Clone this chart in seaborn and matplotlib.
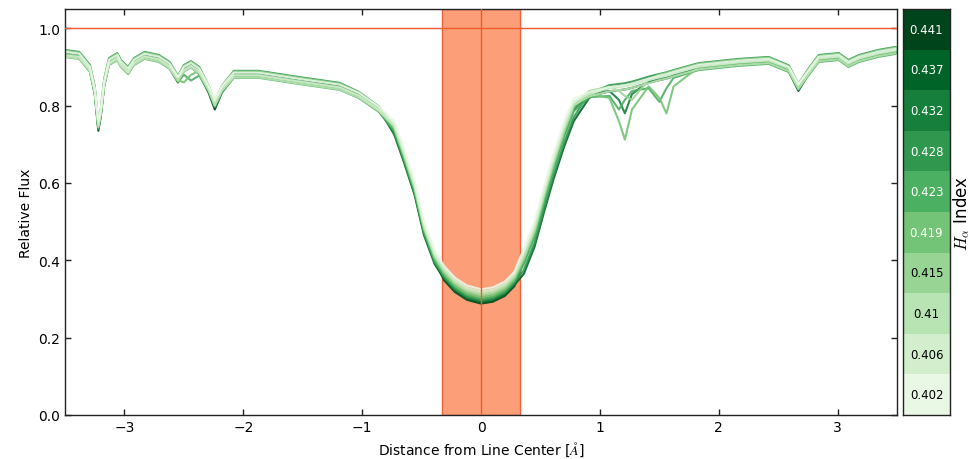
import numpy as np
import pandas as pd
import seaborn as sns
import matplotlib.pyplot as plt
from matplotlib.colors import ListedColormap

# ============================================================
# 1. DATA
# ============================================================

# wavelength offset from the H-alpha line centre [Angstrom]
wave = [-3.50, -3.38, -3.29, -3.25, -3.22, -3.20, -3.17, -3.13, -3.06, -3.03,
        -2.97, -2.92, -2.83, -2.71, -2.62, -2.55, -2.50, -2.44, -2.37, -2.29,
        -2.24, -2.18, -2.08, -1.87, -1.53, -1.19, -1.03, -0.86, -0.73, -0.65,
        -0.56, -0.48, -0.39, -0.31, -0.22, -0.12, 0.00, 0.10, 0.20, 0.28,
        0.36, 0.45, 0.53, 0.61, 0.70, 0.78, 0.91, 1.08, 1.16, 1.21,
        1.27, 1.41, 1.50, 1.56, 1.62, 1.83, 2.17, 2.42, 2.59, 2.67,
        2.74, 2.84, 3.01, 3.09, 3.18, 3.34, 3.49]

# H-alpha index of each spectrum (also the colourbar labels)
ha_index = [0.402, 0.406, 0.41, 0.415, 0.419, 0.423, 0.428, 0.432, 0.437, 0.441]

flux_402 = [0.939, 0.934, 0.900, 0.845, 0.760, 0.788, 0.865, 0.918, 0.931, 0.913,
            0.895, 0.918, 0.934, 0.926, 0.908, 0.874, 0.900, 0.910, 0.895, 0.850,
            0.815, 0.850, 0.885, 0.885, 0.869, 0.854, 0.833, 0.797, 0.760, 0.690,
            0.605, 0.500, 0.425, 0.385, 0.355, 0.335, 0.325, 0.330, 0.345, 0.370,
            0.430, 0.500, 0.590, 0.675, 0.760, 0.818, 0.835, 0.848, 0.851, 0.853,
            0.857, 0.870, 0.877, 0.881, 0.887, 0.905, 0.916, 0.921, 0.900, 0.856,
            0.885, 0.926, 0.931, 0.913, 0.926, 0.939, 0.947]
flux_406 = [0.930, 0.926, 0.893, 0.838, 0.752, 0.782, 0.858, 0.910, 0.924, 0.906,
            0.887, 0.911, 0.927, 0.919, 0.901, 0.872, 0.892, 0.903, 0.888, 0.845,
            0.810, 0.845, 0.878, 0.878, 0.862, 0.847, 0.826, 0.790, 0.752, 0.682,
            0.597, 0.492, 0.417, 0.379, 0.349, 0.329, 0.319, 0.324, 0.339, 0.364,
            0.420, 0.490, 0.580, 0.665, 0.750, 0.810, 0.830, 0.845, 0.848, 0.850,
            0.853, 0.866, 0.873, 0.877, 0.883, 0.901, 0.912, 0.917, 0.897, 0.853,
            0.882, 0.922, 0.927, 0.909, 0.922, 0.935, 0.943]
flux_410 = [0.926, 0.922, 0.888, 0.834, 0.745, 0.775, 0.854, 0.906, 0.919, 0.901,
            0.883, 0.906, 0.922, 0.914, 0.896, 0.864, 0.888, 0.898, 0.883, 0.838,
            0.800, 0.838, 0.873, 0.873, 0.857, 0.842, 0.821, 0.786, 0.746, 0.676,
            0.591, 0.486, 0.411, 0.374, 0.344, 0.324, 0.314, 0.319, 0.334, 0.359,
            0.410, 0.480, 0.570, 0.655, 0.740, 0.802, 0.824, 0.837, 0.840, 0.842,
            0.846, 0.858, 0.866, 0.870, 0.876, 0.894, 0.905, 0.910, 0.889, 0.844,
            0.874, 0.915, 0.920, 0.902, 0.915, 0.928, 0.936]
flux_415 = [0.942, 0.937, 0.902, 0.848, 0.755, 0.788, 0.868, 0.921, 0.934, 0.916,
            0.898, 0.921, 0.937, 0.929, 0.911, 0.876, 0.903, 0.913, 0.898, 0.850,
            0.812, 0.851, 0.888, 0.888, 0.872, 0.857, 0.835, 0.798, 0.744, 0.674,
            0.589, 0.484, 0.409, 0.370, 0.340, 0.320, 0.310, 0.315, 0.330, 0.355,
            0.405, 0.475, 0.565, 0.650, 0.735, 0.800, 0.838, 0.849, 0.838, 0.825,
            0.815, 0.868, 0.880, 0.884, 0.890, 0.908, 0.919, 0.924, 0.902, 0.855,
            0.888, 0.929, 0.934, 0.916, 0.929, 0.942, 0.950]
flux_419 = [0.933, 0.928, 0.894, 0.838, 0.745, 0.778, 0.859, 0.912, 0.925, 0.907,
            0.889, 0.912, 0.928, 0.920, 0.902, 0.866, 0.860, 0.880, 0.889, 0.842,
            0.803, 0.842, 0.879, 0.879, 0.863, 0.848, 0.827, 0.791, 0.740, 0.670,
            0.585, 0.480, 0.405, 0.365, 0.335, 0.315, 0.305, 0.310, 0.325, 0.350,
            0.400, 0.470, 0.560, 0.645, 0.730, 0.795, 0.830, 0.820, 0.760, 0.712,
            0.790, 0.850, 0.820, 0.780, 0.850, 0.899, 0.910, 0.915, 0.894, 0.848,
            0.879, 0.920, 0.925, 0.907, 0.920, 0.933, 0.941]
flux_423 = [0.926, 0.921, 0.887, 0.832, 0.740, 0.772, 0.852, 0.905, 0.918, 0.900,
            0.882, 0.905, 0.921, 0.913, 0.895, 0.861, 0.880, 0.865, 0.878, 0.835,
            0.797, 0.835, 0.872, 0.872, 0.856, 0.841, 0.820, 0.784, 0.735, 0.665,
            0.580, 0.475, 0.400, 0.361, 0.331, 0.311, 0.301, 0.306, 0.321, 0.346,
            0.390, 0.460, 0.550, 0.635, 0.720, 0.785, 0.822, 0.825, 0.790, 0.815,
            0.838, 0.845, 0.810, 0.845, 0.872, 0.892, 0.903, 0.908, 0.887, 0.841,
            0.872, 0.913, 0.918, 0.900, 0.913, 0.926, 0.934]
flux_428 = [0.944, 0.939, 0.905, 0.850, 0.752, 0.788, 0.870, 0.923, 0.936, 0.918,
            0.900, 0.923, 0.939, 0.931, 0.913, 0.877, 0.905, 0.915, 0.900, 0.850,
            0.808, 0.851, 0.890, 0.890, 0.874, 0.859, 0.836, 0.798, 0.730, 0.660,
            0.575, 0.470, 0.395, 0.357, 0.327, 0.307, 0.297, 0.302, 0.317, 0.342,
            0.375, 0.445, 0.535, 0.620, 0.705, 0.770, 0.832, 0.853, 0.856, 0.858,
            0.862, 0.875, 0.882, 0.886, 0.892, 0.910, 0.921, 0.926, 0.904, 0.856,
            0.889, 0.931, 0.936, 0.918, 0.931, 0.944, 0.952]
flux_432 = [0.931, 0.926, 0.891, 0.835, 0.742, 0.775, 0.856, 0.910, 0.923, 0.905,
            0.886, 0.910, 0.926, 0.918, 0.900, 0.864, 0.892, 0.902, 0.886, 0.838,
            0.798, 0.839, 0.877, 0.877, 0.861, 0.846, 0.824, 0.788, 0.732, 0.662,
            0.577, 0.472, 0.397, 0.354, 0.324, 0.304, 0.294, 0.299, 0.314, 0.339,
            0.395, 0.465, 0.555, 0.640, 0.725, 0.790, 0.826, 0.838, 0.815, 0.780,
            0.830, 0.862, 0.869, 0.873, 0.879, 0.897, 0.908, 0.913, 0.891, 0.843,
            0.876, 0.918, 0.922, 0.904, 0.917, 0.931, 0.939]
flux_437 = [0.938, 0.933, 0.898, 0.842, 0.742, 0.780, 0.862, 0.917, 0.930, 0.912,
            0.894, 0.917, 0.933, 0.925, 0.907, 0.870, 0.899, 0.909, 0.894, 0.844,
            0.795, 0.845, 0.884, 0.884, 0.868, 0.852, 0.830, 0.792, 0.725, 0.655,
            0.570, 0.465, 0.390, 0.351, 0.321, 0.301, 0.291, 0.296, 0.311, 0.336,
            0.365, 0.435, 0.525, 0.610, 0.695, 0.760, 0.820, 0.847, 0.850, 0.852,
            0.856, 0.869, 0.876, 0.880, 0.886, 0.904, 0.915, 0.920, 0.897, 0.846,
            0.882, 0.925, 0.930, 0.912, 0.925, 0.938, 0.946]
flux_441 = [0.928, 0.923, 0.888, 0.830, 0.735, 0.770, 0.852, 0.907, 0.920, 0.902,
            0.883, 0.907, 0.923, 0.915, 0.897, 0.860, 0.889, 0.899, 0.882, 0.832,
            0.790, 0.834, 0.874, 0.874, 0.858, 0.843, 0.822, 0.786, 0.735, 0.665,
            0.580, 0.475, 0.400, 0.348, 0.318, 0.298, 0.288, 0.293, 0.308, 0.333,
            0.400, 0.470, 0.560, 0.645, 0.730, 0.795, 0.824, 0.837, 0.840, 0.842,
            0.846, 0.859, 0.866, 0.870, 0.876, 0.894, 0.905, 0.910, 0.888, 0.838,
            0.874, 0.915, 0.920, 0.902, 0.915, 0.928, 0.936]

spectra = [flux_402, flux_406, flux_410, flux_415, flux_419,
           flux_423, flux_428, flux_432, flux_437, flux_441]

band_half_width = 0.33   # integration window around the line centre

# long-form table for seaborn
df = pd.concat(
    [pd.DataFrame({"wave": wave, "flux": f, "index": idx})
     for f, idx in zip(spectra, ha_index)],
    ignore_index=True,
)

# ============================================================
# 2. STYLE
# ============================================================

sns.set_theme(style="ticks")
plt.rcParams["font.family"] = ["DejaVu Sans"]
plt.rcParams["mathtext.fontset"] = "cm"
plt.rcParams["xtick.direction"] = "in"
plt.rcParams["ytick.direction"] = "in"
plt.rcParams["text.color"] = "black"
plt.rcParams["axes.labelcolor"] = "black"
plt.rcParams["xtick.labelcolor"] = "black"
plt.rcParams["ytick.labelcolor"] = "black"

greens = plt.get_cmap("Greens")(np.linspace(0.1, 1.0, len(ha_index)))
palette = {idx: greens[i] for i, idx in enumerate(ha_index)}
text_cols = ["black"] * 4 + ["white"] * 6

# ============================================================
# 3. FIGURE
# ============================================================

fig = plt.figure(figsize=(9.72, 4.6), dpi=100)
ax = fig.add_axes([0.0669, 0.0957, 0.856, 0.8826])
cax = fig.add_axes([0.929, 0.0957, 0.0484, 0.8826])

ax.axvspan(-band_half_width, band_half_width, facecolor="#fc9f79",
           edgecolor="#f0603a", lw=1.0, zorder=1)

sns.lineplot(data=df, x="wave", y="flux", hue="index",
             hue_order=ha_index[::-1], palette=palette,
             estimator=None, sort=False, lw=1.5, alpha=0.9,
             legend=False, ax=ax, zorder=2)

ax.axhline(1.0, color="#f05a2b", lw=1.0, zorder=3)
ax.axvline(0.0, color="#f05a2b", lw=1.0, zorder=3)

ax.set_xlim(-3.5, 3.5)
ax.set_ylim(0, 1.05)
ax.set_yticks([0.0, 0.2, 0.4, 0.6, 0.8, 1.0])
ax.set_xticks([-3, -2, -1, 0, 1, 2, 3])
ax.tick_params(top=True, right=True, length=4, width=1, labelsize=10,
               color="#222222")
ax.set_xlabel(r"Distance from Line Center [$\AA$]", fontsize=10)
ax.set_ylabel("Relative Flux", fontsize=10)
for s in ax.spines.values():
    s.set_color("#222222")
    s.set_linewidth(1.0)

# ============================================================
# 4. DISCRETE COLOUR BAR (heatmap column with labels)
# ============================================================

cells = np.array(range(len(ha_index)))[::-1].reshape(-1, 1)
labels = np.array([str(v) for v in ha_index])[::-1].reshape(-1, 1)

sns.heatmap(cells, ax=cax, cmap=ListedColormap(greens), vmin=-0.5,
            vmax=len(ha_index) - 0.5, annot=labels, fmt="", cbar=False,
            xticklabels=False, yticklabels=False,
            annot_kws={"fontsize": 8.5})
for t, c in zip(cax.texts, text_cols[::-1]):
    t.set_color(c)
for s in cax.spines.values():
    s.set_visible(True)
    s.set_color("#222222")
    s.set_linewidth(1.0)
cax.yaxis.set_label_position("right")
cax.set_ylabel(r"$H_\alpha$ Index", fontsize=12, labelpad=1)

fig.savefig("out.png", dpi=100)
